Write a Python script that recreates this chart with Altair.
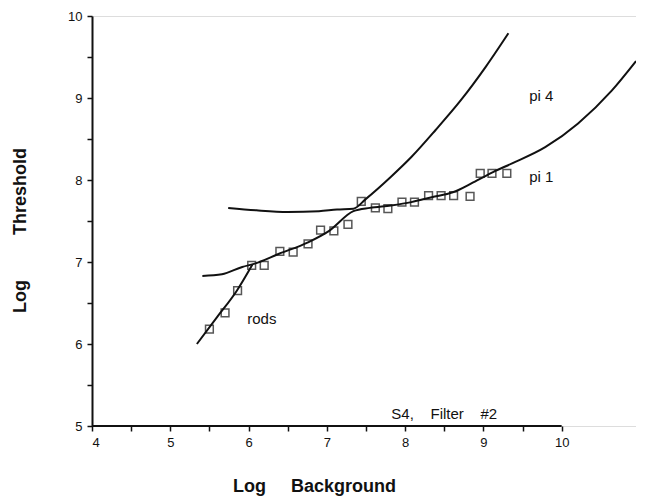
import altair as alt
import pandas as pd

# measured data points (Log Background, Log Threshold)
bg = [5.50, 5.70, 5.86, 6.04, 6.20, 6.40, 6.57, 6.76, 6.92, 7.09, 7.27, 7.44, 7.62,
      7.78, 7.96, 8.12, 8.30, 8.46, 8.62, 8.83, 8.96, 9.11, 9.30]
thr = [6.18, 6.38, 6.65, 6.96, 6.96, 7.13, 7.12, 7.22, 7.39, 7.38, 7.46, 7.74, 7.66,
       7.65, 7.73, 7.73, 7.81, 7.81, 7.81, 7.80, 8.08, 8.08, 8.08]

# fitted curves
rods_x = [5.34, 5.60, 5.85, 6.05]
rods_y = [6.00, 6.33, 6.65, 6.97]

pi1_x = [5.41, 5.66, 5.92, 6.08, 6.39, 6.76, 7.03, 7.34, 7.55, 7.82, 8.08, 8.34,
         8.61, 8.87, 9.13, 9.36, 9.79, 10.21, 10.64, 10.95]
pi1_y = [6.83, 6.85, 6.94, 6.98, 7.10, 7.24, 7.38, 7.62, 7.66, 7.69, 7.73, 7.79,
         7.85, 7.97, 8.10, 8.20, 8.40, 8.69, 9.09, 9.45]

pi4_x = [5.74, 6.10, 6.50, 6.90, 7.13, 7.34, 7.50, 7.82, 8.08, 8.39, 8.71, 9.03, 9.32]
pi4_y = [7.66, 7.63, 7.61, 7.62, 7.64, 7.65, 7.77, 8.04, 8.28, 8.61, 8.97, 9.38, 9.79]

# annotations
ann_text = ["pi 4", "pi 1", "rods", "S4,\u00a0\u00a0\u00a0\u00a0Filter\u00a0\u00a0\u00a0\u00a0#2"]
ann_x = [9.74, 9.74, 6.17, 8.50]
ann_y = [9.03, 8.04, 6.31, 5.15]

x_ticks = [4, 4.5, 5, 5.5, 6, 6.5, 7, 7.5, 8, 8.5, 9, 9.5, 10]
y_ticks = [5, 5.5, 6, 6.5, 7, 7.5, 8, 8.5, 9, 9.5, 10]

W, H = 544, 410
FONT = "Liberation Sans"
INK = "#111111"
LBL = "datum.value % 1 == 0 ? format(datum.value, 'd') : ''"

xs = alt.Scale(domain=[4, 10.95], nice=False, zero=False)
ys = alt.Scale(domain=[5, 10], nice=False, zero=False)

xaxis = alt.Axis(
    values=x_ticks, labelExpr=LBL,
    domain=False, grid=False, tickColor=INK, tickWidth=1.5, tickSize=5,
    labelFont=FONT, labelFontSize=13, labelColor=INK, labelPadding=5,
    title="Log\u00a0\u00a0\u00a0\u00a0\u00a0Background", titleFont=FONT, titleFontSize=18,
    titleFontWeight="bold", titleColor=INK, titleX=222, titleY=60,
    titleBaseline="middle", titleAlign="center",
)
yaxis = alt.Axis(
    values=y_ticks, labelExpr=LBL,
    domain=True, domainColor=INK, domainWidth=2, grid=False,
    tickColor=INK, tickWidth=1.5, tickSize=5,
    labelFont=FONT, labelFontSize=13, labelColor=INK, labelPadding=5,
    title="Log\u00a0\u00a0\u00a0\u00a0\u00a0\u00a0\u00a0\u00a0\u00a0Threshold", titleFont=FONT, titleFontSize=18,
    titleFontWeight="bold", titleColor=INK, titleX=-72, titleY=214,
    titleBaseline="middle", titleAlign="center", titleAngle=-90,
)

pts = pd.DataFrame({"x": bg, "y": thr})
rods = pd.DataFrame({"x": rods_x, "y": rods_y})
pi1 = pd.DataFrame({"x": pi1_x, "y": pi1_y})
pi4 = pd.DataFrame({"x": pi4_x, "y": pi4_y})
ann = pd.DataFrame({"t": ann_text, "x": ann_x, "y": ann_y})
axis_line = pd.DataFrame({"x": [4], "x2": [10], "y": [5]})

base_x = alt.X("x:Q", scale=xs, axis=xaxis)
base_y = alt.Y("y:Q", scale=ys, axis=yaxis)

def curve(df):
    return alt.Chart(df).mark_line(color=INK, strokeWidth=2, interpolate="monotone", clip=True).encode(
        x=alt.X("x:Q", scale=xs), y=alt.Y("y:Q", scale=ys))

axis_rule = alt.Chart(axis_line).mark_rule(color=INK, strokeWidth=2).encode(
    x=base_x, x2="x2:Q", y=base_y)

points = alt.Chart(pts).mark_point(shape="square", filled=False, color=INK, strokeWidth=1.5, size=60).encode(
    x=alt.X("x:Q", scale=xs), y=alt.Y("y:Q", scale=ys))

labels = alt.Chart(ann).mark_text(font=FONT, fontSize=15, color=INK, align="center", baseline="middle").encode(
    x=alt.X("x:Q", scale=xs), y=alt.Y("y:Q", scale=ys), text="t:N")

chart = alt.layer(axis_rule, curve(rods), curve(pi1), curve(pi4), points, labels).properties(
    width=W, height=H,
    autosize=alt.AutoSizeParams(type="none"),
    padding={"left": 84, "top": 8, "right": 0, "bottom": 72},
).configure_view(stroke=None).configure(background="white")

chart.save("out.html", embed_options={"renderer": "svg", "actions": False})
